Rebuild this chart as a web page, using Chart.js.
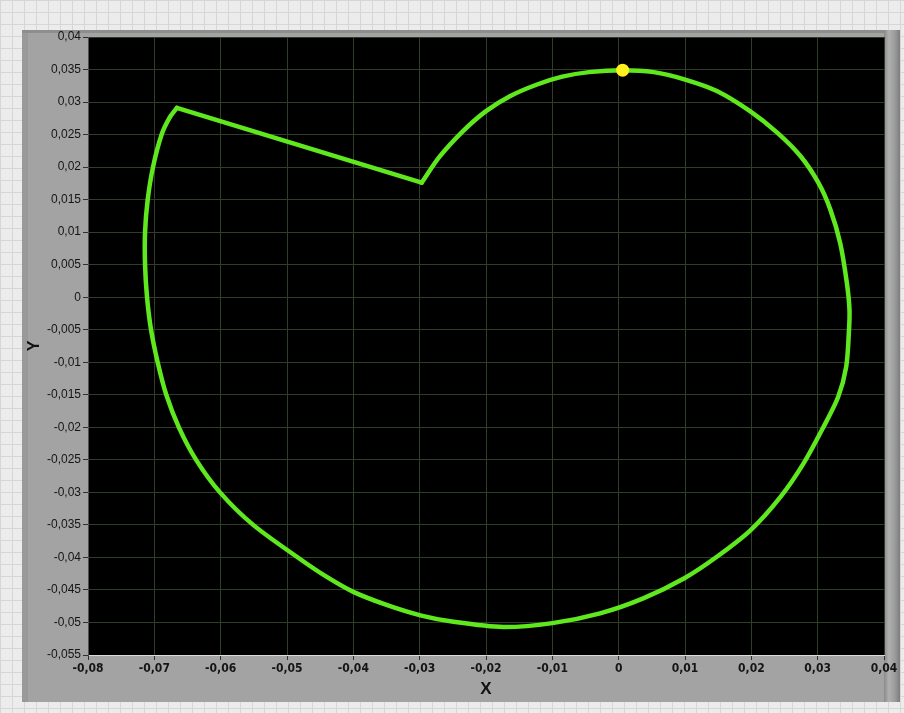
<!DOCTYPE html>
<html>
<head>
<meta charset="utf-8">
<script src="https://cdn.jsdelivr.net/npm/chart.js@4/dist/chart.umd.min.js"></script>
<style>
html,body{margin:0;padding:0}
body{
  width:904px;height:713px;overflow:hidden;position:relative;
  background-color:#ececec;
  background-image:
    linear-gradient(to right,#d6d6d6 1px,transparent 1px),
    linear-gradient(to bottom,#d6d6d6 1px,transparent 1px);
  background-size:12px 12px;
}
#panel{position:absolute;left:22px;top:30px;width:878px;height:672px;background:#a3a3a3;
  box-shadow:inset 0 3px 0 #8e8e8e, inset 6px 0 0 #999;}
#strip{position:absolute;left:884px;top:30px;width:16px;height:672px;
  background:linear-gradient(to right,#8a8a8a,#b0b0b0 30%,#9a9a9a 70%,#7c7c7c);}
#c{position:absolute;left:0;top:0}
</style>
</head>
<body>
<div id="panel"></div>
<div id="strip"></div>
<canvas id="c" width="904" height="713"></canvas>
<script>

// DATA

// curved part: inner corner -> top -> right side -> bottom -> left side -> outer corner
const arcX = [-0.0297,-0.0270,-0.0235,-0.0200,-0.0164,-0.0123,-0.0085,-0.0045,0.0006,
0.0053,0.0099,0.0148,0.0198,0.0239,0.0274,0.0301,0.0319,0.0334,0.0344,0.0348,
0.0347,0.0343,0.0331,0.0308,0.0279,0.0244,0.0199,0.0148,0.0099,0.0037,-0.0028,
-0.0100,-0.0174,-0.0249,-0.0299,-0.0350,-0.0400,-0.0440,-0.0481,
-0.0551,-0.0601,-0.0637,-0.0663,-0.0682,-0.0695,-0.0705,-0.0711,-0.0714,-0.0714,
-0.0710,-0.0702,-0.0689,-0.0677,-0.0666]

const arcY = [0.0176,0.0216,0.0255,0.0286,0.0309,0.0327,0.0339,0.0346,0.0349,
0.0346,0.0335,0.0317,0.0286,0.0253,0.0217,0.0176,0.0135,0.0083,0.0022,-0.0020,
-0.0055,-0.0107,-0.0153,-0.0201,-0.0255,-0.0307,-0.0358,-0.0399,-0.0432,-0.0463,-0.0486,
-0.0501,-0.0507,-0.0499,-0.0489,-0.0473,-0.0453,-0.0430,-0.0402,
-0.0350,-0.0300,-0.0250,-0.0200,-0.0150,-0.0100,-0.0050,0.0000,0.0050,0.0100,
0.0150,0.0200,0.0250,0.0276,0.0291]

// straight part: outer corner back to the inner corner
const edgeX = [-0.0666,-0.0297]
const edgeY = [0.0291,0.0176]

const markerX = [0.0006]
const markerY = [0.0349]

const xTicks = [-0.08,-0.07,-0.06,-0.05,-0.04,-0.03,-0.02,-0.01,0,0.01,0.02,0.03,0.04]
const yTicks = [-0.055,-0.05,-0.045,-0.04,-0.035,-0.03,-0.025,-0.02,-0.015,-0.01,-0.005,
0,0.005,0.01,0.015,0.02,0.025,0.03,0.035,0.04]

const fmt = v => String(v).replace('.',',')
const pts = (xs,ys) => xs.map((x,i)=>({x:x,y:ys[i]}))

const plotBg = {
  id:'plotBg',
  beforeDraw(chart){
    const a = chart.chartArea, ctx = chart.ctx
    ctx.save()
    ctx.fillStyle = '#000'
    ctx.fillRect(a.left,a.top,a.right-a.left,a.bottom-a.top)
    ctx.restore()
  }
}

Chart.defaults.font.family = "'Liberation Sans', Arial, sans-serif"

const lineStyle = {
  showLine:true,
  borderColor:'#5fe81e',
  borderWidth:4.5,
  pointRadius:0,
  borderJoinStyle:'round',
  borderCapStyle:'round',
  order:1
}

new Chart(document.getElementById('c'),{
  type:'scatter',
  data:{
    datasets:[{
      data:pts(markerX,markerY),
      pointRadius:6.5,
      pointBackgroundColor:'#fff01e',
      pointBorderWidth:0,
      order:0
    },
    Object.assign({data:pts(arcX,arcY),tension:0.3},lineStyle),
    Object.assign({data:pts(edgeX,edgeY),tension:0},lineStyle)
    ]
  },
  options:{
    responsive:false,
    animation:false,
    devicePixelRatio:1,
    plugins:{legend:{display:false},tooltip:{enabled:false}},
    layout:{padding:{left:0,top:37,right:20,bottom:0}},
    scales:{
      x:{
        type:'linear',min:-0.08,max:0.04,
        afterFit(s){s.height=58},
        afterBuildTicks(s){s.ticks = xTicks.map(v=>({value:v}))},
        ticks:{callback:v=>fmt(v),color:'#151515',padding:2,maxRotation:0,autoSkip:false,
          font:{family:"'Liberation Sans Narrow','DejaVu Sans Condensed',sans-serif",size:12,weight:'bold'}},
        grid:{color:'#2f3f27',tickColor:'#303030',tickLength:5},
        border:{color:'#dcdcdc',width:1},
        title:{display:true,text:'X',color:'#111',font:{size:17,weight:'bold'},padding:{top:0,bottom:13}}
      },
      y:{
        type:'linear',min:-0.055,max:0.04,
        afterFit(s){s.width=88},
        afterBuildTicks(s){s.ticks = yTicks.map(v=>({value:v}))},
        ticks:{callback:v=>fmt(v),color:'#151515',padding:2,autoSkip:false,
          font:{size:12}},
        grid:{color:'#2f3f27',tickColor:'#303030',tickLength:5},
        border:{color:'#505050',width:1},
        title:{display:true,text:'Y',color:'#111',font:{size:16,weight:'bold'},padding:{top:25,bottom:0}}
      }
    }
  },
  plugins:[plotBg]
})

</script>
</body>
</html>
